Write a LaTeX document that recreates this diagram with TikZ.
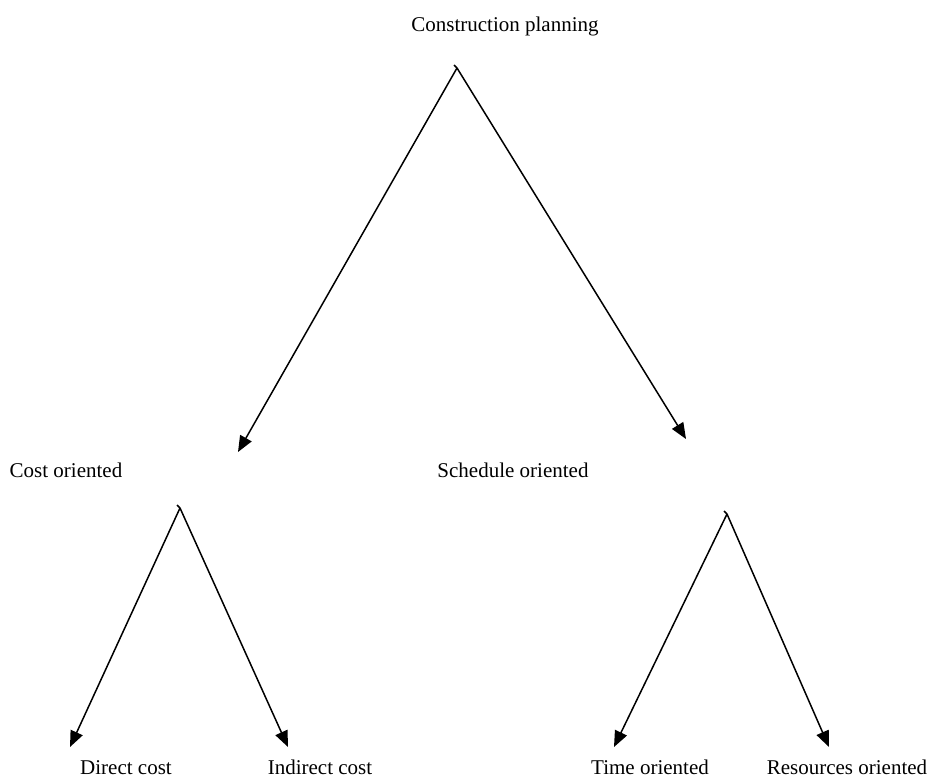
\documentclass[tikz,border=0pt]{standalone}
\usepackage{fontspec}
\setmainfont{Liberation Serif}
\usetikzlibrary{arrows.meta}
\begin{document}
\begin{tikzpicture}[x=1pt,y=-1pt,
  lbl/.style={inner sep=0pt,font=\fontsize{21}{24}\selectfont,anchor=base},
  link/.style={line width=1.5pt,-{Triangle[length=16pt,width=13pt]}},
  tick/.style={line width=1.5pt}]
\useasboundingbox (0,0) rectangle (947,781);
% labels
\node[lbl] (cp) at (505,32) {Construction planning};
\node[lbl] (co) at (66,477) {Cost oriented};
\node[lbl] (so) at (513,477) {Schedule oriented};
\node[lbl] (dc) at (126,774) {Direct cost};
\node[lbl] (ic) at (320,774) {Indirect cost};
\node[lbl] (to) at (650,774) {Time oriented};
\node[lbl] (ro) at (847,774) {Resources oriented};
% apex points and tips
\coordinate (a1) at (457,68);
\coordinate (a2) at (180,508);
\coordinate (a3) at (727,514);
\coordinate (t1) at (238,452);
\coordinate (t2) at (686,439);
\coordinate (t3) at (70,747);
\coordinate (t4) at (288,747);
\coordinate (t5) at (614,747);
\coordinate (t6) at (829,747);
% ticks
\draw[tick] (a1) -- ++(-3,-3);
\draw[tick] (a2) -- ++(-3,-3);
\draw[tick] (a3) -- ++(-3,-3);
% connectors
\draw[link] (a1) -- (t1);
\draw[link] (a1) -- (t2);
\draw[link] (a2) -- (t3);
\draw[link] (a2) -- (t4);
\draw[link] (a3) -- (t5);
\draw[link] (a3) -- (t6);
\end{tikzpicture}
\end{document}
